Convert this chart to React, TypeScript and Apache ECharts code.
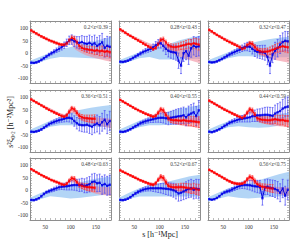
import React, { useEffect, useRef } from 'react';
import * as echarts from 'echarts';

// separations (h^-1 Mpc)
const S = [22.5, 27.5, 32.5, 37.5, 42.5, 47.5, 52.5, 57.5, 62.5, 67.5, 72.5, 77.5, 82.5, 87.5, 92.5, 97.5, 102.5, 107.5, 112.5, 117.5, 122.5, 127.5, 132.5, 137.5, 142.5, 147.5, 152.5, 157.5, 162.5, 167.5, 172.5, 177.5];
const SB = [20, 40, 60, 80, 100, 120, 140, 160, 180];
const SR = [20, 30, 40, 50, 60, 70, 80, 90, 100, 110, 120, 130, 140, 150, 160, 170, 180];

const LABELS = ['0.2<z<0.39', '0.28<z<0.43', '0.32<z<0.47', '0.36<z<0.51', '0.40<z<0.55', '0.44<z<0.59', '0.48<z<0.63', '0.52<z<0.67', '0.56<z<0.75'];
const X_LABELS = [50, 100, 150];
const Y_LABELS = [-100, -50, 0, 50, 100];
const X_TICKS = [20, 30, 40, 50, 60, 70, 80, 90, 100, 110, 120, 130, 140, 150, 160, 170, 180];
const Y_TICKS = [-120, -110, -100, -90, -80, -70, -60, -50, -40, -30, -20, -10, 0, 10, 20, 30, 40, 50, 60, 70, 80, 90, 100, 110, 120, 130];

const RED_ERR = [2, 2, 2, 2, 2, 3, 3, 3, 3, 4, 4, 4, 5, 5, 6, 7, 8, 9, 9, 10, 11, 12, 13, 14, 15, 16, 17, 18, 19, 20, 21, 22];
const BLUE_ERR = [2, 2, 3, 3, 4, 4, 5, 6, 7, 8, 9, 10, 11, 13, 15, 17, 19, 21, 23, 25, 26, 28, 30, 31, 32, 33, 34, 35, 36, 37, 38, 39];

const red1 = [92, 86, 80, 74, 68, 63, 58, 53, 49, 45, 41, 37, 34, 34, 40, 52, 62, 58, 44, 30, 22, 18, 16, 14, 13, 10, 12, 8, 10, 6, 8, 4];
const blue1 = [-38, -39, -37, -33, -27, -20, -13, -6, 0, 6, 12, 18, 24, 32, 42, 52, 55, 48, 44, 42, 45, 40, 38, 42, 35, 40, 30, 36, 44, 22, 30, 26];
const red2 = [96, 90, 83, 76, 70, 64, 58, 52, 46, 40, 34, 28, 22, 17, 22, 36, 54, 56, 44, 32, 27, 25, 25, 27, 30, 32, 35, 38, 36, 40, 38, 35];
const blue2 = [-34, -35, -33, -30, -25, -19, -13, -7, -1, 5, 10, 14, 18, 24, 32, 38, 40, 30, 18, 10, 6, 4, 2, -30, -50, 0, 8, -10, 20, 30, 25, 28];
const red3 = [94, 88, 81, 74, 68, 62, 56, 50, 45, 40, 35, 30, 24, 18, 22, 32, 40, 38, 25, 14, 8, 6, 6, 7, 10, 14, 18, 22, 25, 28, 26, 24];
const blue3 = [-35, -37, -36, -33, -28, -23, -17, -11, -5, 0, 5, 10, 14, 20, 25, 27, 26, 18, 10, 6, 5, 4, 2, -15, -50, -5, 10, 20, 35, 45, 50, 48];
const red4 = [92, 86, 80, 74, 68, 62, 56, 50, 45, 40, 35, 30, 25, 22, 28, 42, 56, 52, 38, 26, 20, 17, 16, 15, 14, 14, null, null, null, null, null, null];
const blue4 = [-38, -39, -37, -34, -29, -22, -15, -8, -3, 1, 5, 8, 11, 14, 17, 18, 15, 5, -4, -10, -12, -12, -10, -14, -18, -10, -5, -12, 0, 10, -8, 5];
const red5 = [90, 84, 78, 72, 66, 60, 54, 49, 44, 39, 34, 30, 26, 22, 26, 38, 52, 48, 30, 16, 10, 8, 8, 7, 6, 8, 6, 4, 5, 3, 2, 0];
const blue5 = [-38, -39, -37, -33, -28, -22, -16, -10, -4, 0, 4, 7, 10, 12, 15, 17, 18, 18, 16, 15, 18, 20, 22, 24, 25, 28, 20, 30, 35, 40, 25, 48];
const red6 = [87, 81, 75, 69, 63, 57, 51, 46, 41, 36, 31, 26, 21, 17, 24, 38, 52, 48, 30, 16, 12, 10, 9, 8, 8, 10, 12, 10, 8, 9, 6, 5];
const blue6 = [-38, -40, -37, -33, -28, -22, -15, -9, -2, 2, 6, 9, 12, 14, 16, 18, 20, 24, 26, 28, 28, 29, 30, 30, 28, 26, 35, 40, 45, 55, 60, 63];
const red7 = [85, 79, 73, 67, 61, 56, 51, 46, 41, 37, 33, 29, 24, 21, 26, 38, 48, 46, 32, 22, 18, 15, 13, 12, 11, 10, null, null, null, null, null, null];
const blue7 = [-39, -40, -37, -32, -24, -15, -8, -4, 0, 4, 8, 12, 14, 15, 16, 18, 20, 21, 21, 20, 22, 18, 20, 24, 33, 35, 28, 30, 20, 25, 18, 22];
const red8 = [80, 75, 70, 65, 60, 55, 50, 45, 40, 36, 32, 28, 24, 22, 28, 42, 55, 50, 32, 18, 14, 12, 12, 12, 13, 12, 10, 8, 6, 8, 4, 2];
const blue8 = [-39, -40, -38, -34, -28, -20, -13, -7, -2, 2, 5, 7, 8, 8, 8, 8, 8, 7, 6, 5, 3, 0, -5, -13, -10, -5, 0, 5, 8, 2, 6, 4];
const red9 = [82, 77, 71, 65, 59, 53, 47, 41, 36, 31, 28, 26, 25, 26, 32, 44, 54, 50, 36, 24, 18, 14, 12, 10, 8, 7, null, null, null, null, null, null];
const blue9 = [-36, -38, -36, -31, -24, -15, -9, -5, -2, 3, 8, 13, 17, 20, 21, 21, 20, 18, 16, 15, 14, -32, 12, 14, 10, 8, 5, 0, -10, 7, -22, 2];

// blue (quadrupole) model bands on SB
const bbLo1 = [-48, -35, -22, -15, -16, -18, -20, -22, -24];
const bbHi1 = [-30, -14, 2, 15, 25, 35, 45, 55, 65];
const bbLo2 = [-46, -34, -20, -15, -25, -25, -24, -23, -22];
const bbHi2 = [-28, -12, 4, 18, 26, 38, 52, 62, 72];
const bbLo3 = [-46, -34, -20, -12, -12, -14, -16, -16, -16];
const bbHi3 = [-28, -12, 4, 20, 38, 48, 56, 62, 66];
const bbLo4 = [-48, -34, -18, -12, -12, -14, -16, -18, -20];
const bbHi4 = [-30, -12, 6, 22, 40, 50, 58, 64, 70];
const bbLo5 = [-48, -34, -20, -12, -12, -10, -8, -6, -4];
const bbHi5 = [-30, -12, 6, 20, 32, 44, 54, 62, 70];
const bbLo6 = [-48, -34, -20, -16, -20, -22, -20, -14, -8];
const bbHi6 = [-30, -12, 4, 14, 18, 24, 30, 34, 38];
const bbLo7 = [-48, -36, -24, -28, -33, -30, -25, -20, -18];
const bbHi7 = [-30, -12, 4, 14, 21, 32, 42, 50, 55];
const bbLo8 = [-48, -35, -25, -25, -25, -25, -25, -25, -25];
const bbHi8 = [-30, -10, 8, 22, 28, 36, 46, 56, 62];
const bbLo9 = [-46, -34, -24, -30, -33, -30, -28, -25, -22];
const bbHi9 = [-28, -10, 8, 20, 28, 40, 52, 64, 75];

// red (monopole) model bands on SR
const rbLo1 = [86, 75, 63, 53, 44, 36, 29, 26, 40, 14, 2, -8, -14, -20, -25, -30, -34];
const rbHi1 = [100, 88, 76, 65, 56, 48, 41, 39, 62, 34, 24, 20, 18, 16, 15, 14, 13];
const rbLo2 = [90, 78, 66, 55, 45, 35, 26, 20, 38, 16, 4, -6, -14, -22, -28, -34, -40];
const rbHi2 = [104, 92, 80, 69, 59, 49, 40, 34, 58, 38, 28, 24, 22, 20, 18, 16, 14];
const rbLo3 = [88, 77, 65, 54, 44, 34, 23, 15, 26, 16, -4, -14, -20, -26, -30, -34, -38];
const rbHi3 = [102, 90, 78, 66, 56, 46, 35, 29, 48, 42, 22, 18, 16, 16, 16, 15, 14];
const rbLo4 = [88, 77, 66, 54, 44, 34, 24, 18, 40, 32, 10, 0, -6, -12, -16, -20, -24];
const rbHi4 = [100, 89, 78, 66, 56, 46, 36, 32, 62, 56, 30, 24, 22, 20, 18, 16, 14];
const rbLo5 = [86, 75, 63, 52, 42, 33, 24, 18, 36, 26, 0, -8, -12, -16, -18, -20, -22];
const rbHi5 = [98, 87, 75, 63, 52, 43, 34, 30, 56, 50, 22, 18, 16, 16, 17, 18, 18];
const rbLo6 = [83, 72, 60, 49, 39, 29, 19, 14, 36, 26, 2, -6, -10, -14, -16, -18, -20];
const rbHi6 = [96, 85, 73, 61, 50, 40, 30, 28, 56, 50, 24, 20, 18, 18, 18, 18, 18];
const rbLo7 = [81, 70, 59, 48, 38, 30, 22, 16, 34, 28, 8, -2, -8, -14, -18, -20, -22];
const rbHi7 = [94, 83, 71, 59, 48, 40, 32, 29, 54, 50, 28, 22, 18, 16, 14, 13, 12];
const rbLo8 = [76, 66, 56, 46, 37, 29, 21, 18, 40, 32, 6, -2, -6, -10, -14, -16, -18];
const rbHi8 = [88, 78, 68, 58, 48, 39, 31, 30, 60, 56, 26, 22, 20, 18, 16, 14, 13];
const rbLo9 = [78, 67, 55, 44, 32, 24, 20, 20, 38, 32, 10, 0, -6, -12, -16, -20, -22];
const rbHi9 = [90, 79, 67, 56, 45, 36, 32, 34, 58, 56, 30, 22, 18, 15, 13, 12, 12];

const PANELS = [
  { red: red1, blue: blue1, bbLo: bbLo1, bbHi: bbHi1, rbLo: rbLo1, rbHi: rbHi1 },
  { red: red2, blue: blue2, bbLo: bbLo2, bbHi: bbHi2, rbLo: rbLo2, rbHi: rbHi2 },
  { red: red3, blue: blue3, bbLo: bbLo3, bbHi: bbHi3, rbLo: rbLo3, rbHi: rbHi3 },
  { red: red4, blue: blue4, bbLo: bbLo4, bbHi: bbHi4, rbLo: rbLo4, rbHi: rbHi4 },
  { red: red5, blue: blue5, bbLo: bbLo5, bbHi: bbHi5, rbLo: rbLo5, rbHi: rbHi5 },
  { red: red6, blue: blue6, bbLo: bbLo6, bbHi: bbHi6, rbLo: rbLo6, rbHi: rbHi6 },
  { red: red7, blue: blue7, bbLo: bbLo7, bbHi: bbHi7, rbLo: rbLo7, rbHi: rbHi7 },
  { red: red8, blue: blue8, bbLo: bbLo8, bbHi: bbHi8, rbLo: rbLo8, rbHi: rbHi8 },
  { red: red9, blue: blue9, bbLo: bbLo9, bbHi: bbHi9, rbLo: rbLo9, rbHi: rbHi9 },
];

const GRID_LEFT = [30, 119, 208];
const GRID_TOP = [21, 90, 158];
const GW = 81;
const GH = 62;
const FONT = '"Liberation Serif", "DejaVu Serif", serif';
const FRAME = '#8e8e8e';

function bandSeries(idx: number, xs: number[], lo: number[], hi: number[], fill: string, opacity: number, z: number) {
  return {
    type: 'custom', xAxisIndex: idx, yAxisIndex: idx, z, silent: true, clip: true,
    data: [[xs[0], lo[0]]],
    renderItem: (_p: any, api: any) => {
      const pts: number[][] = [];
      for (let k = 0; k < xs.length; k++) pts.push(api.coord([xs[k], hi[k]]));
      for (let k = xs.length - 1; k >= 0; k--) pts.push(api.coord([xs[k], lo[k]]));
      return { type: 'polygon', shape: { points: pts }, style: { fill, opacity } };
    },
  };
}

function errSeries(idx: number, vals: (number | null)[], errs: number[], color: string, z: number) {
  const data: number[][] = [];
  S.forEach((s, k) => { if (vals[k] != null) data.push([s, vals[k] as number, errs[k]]); });
  return {
    type: 'custom', xAxisIndex: idx, yAxisIndex: idx, z, silent: true, clip: true,
    data,
    renderItem: (_p: any, api: any) => {
      const x = api.value(0), y = api.value(1), e = api.value(2);
      const a = api.coord([x, y + e]);
      const b = api.coord([x, y - e]);
      const w = 1;
      const st = { stroke: color, lineWidth: 0.7 };
      return {
        type: 'group', children: [
          { type: 'line', shape: { x1: a[0], y1: a[1], x2: b[0], y2: b[1] }, style: st },
          { type: 'line', shape: { x1: a[0] - w, y1: a[1], x2: a[0] + w, y2: a[1] }, style: st },
          { type: 'line', shape: { x1: b[0] - w, y1: b[1], x2: b[0] + w, y2: b[1] }, style: st },
        ],
      };
    },
  };
}

function buildOption() {
  const grid: any[] = [], xAxis: any[] = [], yAxis: any[] = [], series: any[] = [], graphic: any[] = [];
  PANELS.forEach((p, i) => {
    const r = Math.floor(i / 3), c = i % 3;
    grid.push({ left: GRID_LEFT[c], top: GRID_TOP[r], width: GW, height: GH, show: false });
    const line = { show: true, onZero: false, lineStyle: { color: FRAME, width: 1 } };
    const xt = { show: true, inside: true, length: 2, customValues: X_TICKS, lineStyle: { color: FRAME, width: 0.6 } };
    const yt = { show: true, inside: true, length: 2, customValues: Y_TICKS, lineStyle: { color: FRAME, width: 0.6 } };
    const lab = { fontFamily: FONT, fontSize: 5.5, color: '#333' };
    xAxis.push({ gridIndex: i, type: 'value', min: 20, max: 180, position: 'bottom', axisLine: line, axisTick: xt, splitLine: { show: false },
      axisLabel: { show: r === 2, customValues: X_LABELS, margin: 3.5, ...lab } });
    xAxis.push({ gridIndex: i, type: 'value', min: 20, max: 180, position: 'top', axisLine: line, axisTick: xt, splitLine: { show: false }, axisLabel: { show: false } });
    yAxis.push({ gridIndex: i, type: 'value', min: -120, max: 130, position: 'left', axisLine: line, axisTick: yt, splitLine: { show: false },
      axisLabel: { show: c === 0, customValues: Y_LABELS, margin: 2, ...lab } });
    yAxis.push({ gridIndex: i, type: 'value', min: -120, max: 130, position: 'right', axisLine: line, axisTick: yt, splitLine: { show: false }, axisLabel: { show: false } });
    const ax = 2 * i;
    series.push(bandSeries(ax, SB, p.bbLo, p.bbHi, '#abd0f5', 0.9, 1));
    series.push(bandSeries(ax, SR, p.rbLo, p.rbHi, '#f08c9c', 0.6, 2));
    series.push(errSeries(ax, p.blue, BLUE_ERR, '#4a4af5', 3));
    series.push(errSeries(ax, p.red, RED_ERR, '#ff3a3a', 3));
    series.push({ type: 'line', xAxisIndex: ax, yAxisIndex: ax, z: 4, silent: true, showSymbol: false,
      data: S.map((s, k) => [s, p.blue[k]]), lineStyle: { color: '#0000e0', width: 1 } });
    series.push({ type: 'line', xAxisIndex: ax, yAxisIndex: ax, z: 4, silent: true, showSymbol: false, connectNulls: false,
      data: S.map((s, k) => [s, p.red[k]]), lineStyle: { color: '#ff0000', width: 1 } });
    series.push({ type: 'scatter', xAxisIndex: ax, yAxisIndex: ax, z: 5, silent: true, symbol: 'rect', symbolSize: 2.4,
      data: S.map((s, k) => [s, p.blue[k]]).filter((d) => d[1] != null), itemStyle: { color: '#0000e8' } });
    series.push({ type: 'scatter', xAxisIndex: ax, yAxisIndex: ax, z: 5, silent: true, symbol: 'rect', symbolSize: 2.4,
      data: S.map((s, k) => [s, p.red[k]]).filter((d) => d[1] != null), itemStyle: { color: '#ff0000' } });
    graphic.push({ type: 'text', x: GRID_LEFT[c] + GW - 3, y: GRID_TOP[r] + 6, z: 100,
      style: { text: LABELS[i], align: 'right', verticalAlign: 'middle', font: '5.3px ' + FONT, fill: '#444' } });
  });
  graphic.push({ type: 'text', x: 10, y: 122, rotation: Math.PI / 2,
    style: { text: 's²ξ₀,₂ [h⁻²Mpc²]', align: 'center', verticalAlign: 'middle', font: '8px ' + FONT, fill: '#222' } });
  graphic.push({ type: 'text', x: 160, y: 234,
    style: { text: 's [h⁻¹Mpc]', align: 'center', verticalAlign: 'middle', font: '8px ' + FONT, fill: '#222' } });
  return { animation: false, backgroundColor: '#ffffff', grid, xAxis, yAxis, series, graphic };
}

export default function App() {
  const ref = useRef<HTMLDivElement>(null);
  useEffect(() => {
    if (!ref.current) return;
    const chart = echarts.init(ref.current, undefined, { renderer: 'svg' });
    chart.setOption(buildOption() as any);
    return () => chart.dispose();
  }, []);
  return <div ref={ref} style={{ position: 'fixed', left: 0, top: 0, width: 300, height: 240 }} />;
}
